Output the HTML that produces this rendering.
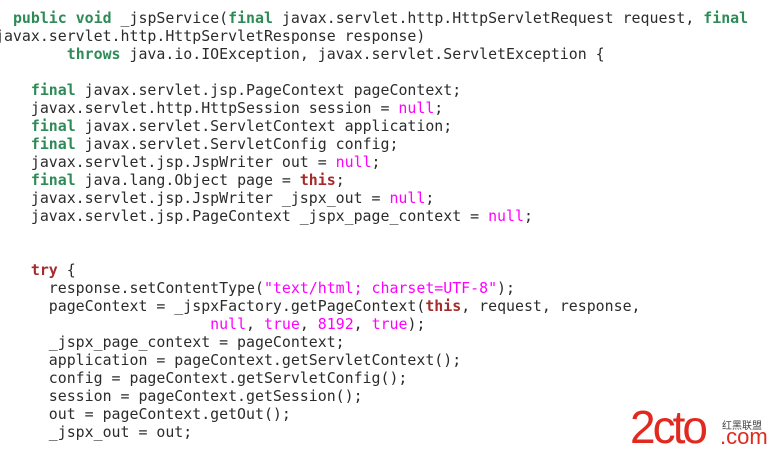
<!DOCTYPE html>
<html><head><meta charset="utf-8"><style>
html,body{margin:0;padding:0;background:#fff;width:769px;height:457px;overflow:hidden;position:relative}
pre{position:absolute;left:-5px;top:9px;margin:0;font-family:"DejaVu Sans Mono","Liberation Mono",monospace;font-size:14.9px;line-height:18px;color:#2b2b2b}
.k{color:#2e8b57;font-weight:bold}
.b{color:#a52a2a;font-weight:bold}
.m{color:#ff00ff}
.logo{position:absolute;left:630px;top:410px;font-family:"Liberation Sans",sans-serif;color:#e02a20}
</style></head><body>
<pre>  <span class="k">public</span> <span class="k">void</span> _jspService(<span class="k">final</span> javax.servlet.http.HttpServletRequest request, <span class="k">final</span>
javax.servlet.http.HttpServletResponse response)
        <span class="k">throws</span> java.io.IOException, javax.servlet.ServletException {

    <span class="k">final</span> javax.servlet.jsp.PageContext pageContext;
    javax.servlet.http.HttpSession session = <span class="m">null</span>;
    <span class="k">final</span> javax.servlet.ServletContext application;
    <span class="k">final</span> javax.servlet.ServletConfig config;
    javax.servlet.jsp.JspWriter out = <span class="m">null</span>;
    <span class="k">final</span> java.lang.Object page = <span class="b">this</span>;
    javax.servlet.jsp.JspWriter _jspx_out = <span class="m">null</span>;
    javax.servlet.jsp.PageContext _jspx_page_context = <span class="m">null</span>;


    <span class="b">try</span> {
      response.setContentType(<span class="m">"text/html; charset=UTF-8"</span>);
      pageContext = _jspxFactory.getPageContext(<span class="b">this</span>, request, response,
                        <span class="m">null</span>, <span class="m">true</span>, <span class="m">8192</span>, <span class="m">true</span>);
      _jspx_page_context = pageContext;
      application = pageContext.getServletContext();
      config = pageContext.getServletConfig();
      session = pageContext.getSession();
      out = pageContext.getOut();
      _jspx_out = out;</pre>
<div class="logo"><span style="position:absolute;left:0;top:-6px;font-size:46px;letter-spacing:-3px;line-height:46px">2cto</span><span style="position:absolute;left:92px;top:10px;font-size:10px;line-height:10px;color:#444;font-family:'Noto Sans CJK SC',sans-serif;white-space:nowrap">红黑联盟</span><span style="position:absolute;left:90px;top:16px;font-size:22px;line-height:22px">.com</span></div>
</body></html>
